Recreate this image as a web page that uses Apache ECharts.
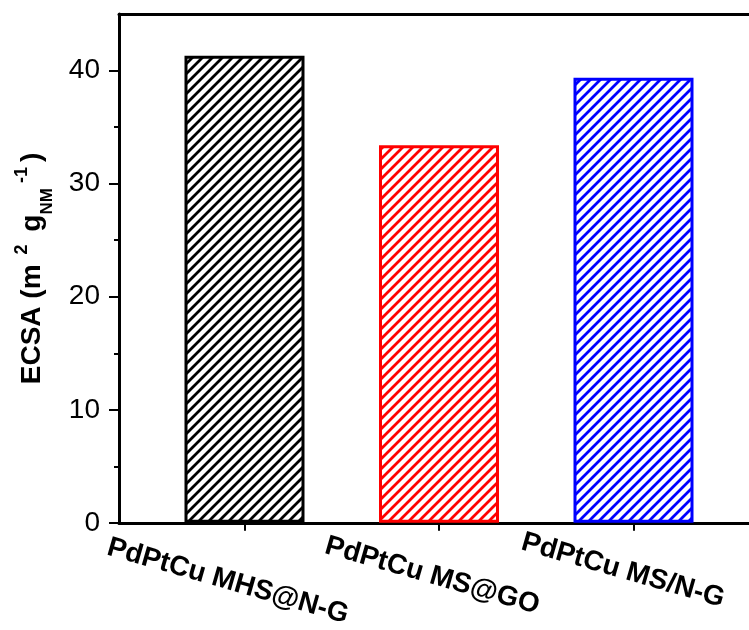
<!DOCTYPE html>
<html>
<head>
<meta charset="utf-8">
<script src="https://cdn.jsdelivr.net/npm/echarts@6/dist/echarts.min.js"></script>
<style>
  html, body { margin: 0; padding: 0; background: #fff; }
  #chart { width: 749px; height: 630px; }
</style>
</head>
<body>
<div id="chart"></div>
<script>
const categories = ['PdPtCu MHS@N-G', 'PdPtCu MS@GO', 'PdPtCu MS/N-G'];
const ecsa = [41.3, 33.4, 39.35];
const barColors = ['#000000', '#ff0000', '#0000ff'];
const yTicks = [0, 10, 20, 30, 40];
const yMinorTicks = [5, 15, 25, 35];

function hatch(color) {
  const s = 10;
  const c = document.createElement('canvas');
  c.width = s; c.height = s;
  const ctx = c.getContext('2d');
  ctx.fillStyle = '#ffffff';
  ctx.fillRect(0, 0, s, s);
  ctx.strokeStyle = color;
  ctx.lineWidth = 2.8;
  ctx.beginPath();
  ctx.moveTo(0, s); ctx.lineTo(s, 0);
  ctx.moveTo(-s / 2, s / 2); ctx.lineTo(s / 2, -s / 2);
  ctx.moveTo(s / 2, s * 1.5); ctx.lineTo(s * 1.5, s / 2);
  ctx.stroke();
  return c;
}

const font = 'Liberation Sans, Arial, sans-serif';
const labelBase = { fontFamily: font, fontSize: 28, fontWeight: 'bold', color: '#000' };
const chart = echarts.init(document.getElementById('chart'), null, { renderer: 'canvas' });

const barData = ecsa.map((v, i) => ({
  value: v,
  itemStyle: {
    color: { image: hatch(barColors[i]), repeat: 'repeat' },
    borderColor: barColors[i],
    borderWidth: 3
  }
}));

const frameLine = { show: true, onZero: false, lineStyle: { color: '#000', width: 3 } };

chart.setOption({
  backgroundColor: '#ffffff',
  animation: false,
  grid: [
    { left: 147.25, top: 14, bottom: 107, width: 583.5, containLabel: false },
    { left: 117, top: 14, bottom: 107, width: 660, containLabel: false }
  ],
  xAxis: [
    {
      type: 'category',
      gridIndex: 0,
      data: categories,
      boundaryGap: true,
      position: 'bottom',
      axisLine: { show: false },
      splitLine: { show: false },
      axisTick: { show: true, alignWithLabel: true, length: 8, lineStyle: { color: '#000', width: 2 } },
      axisLabel: {
        interval: 0,
        formatter: (v, idx) => '{l' + idx + '|' + v + '}',
        rotate: -16,
        align: 'center',
        verticalAlign: 'middle',
        margin: 53,
        color: '#000',
        fontFamily: font,
        fontSize: 28,
        fontWeight: 'bold',
        rich: {
          l0: Object.assign({ padding: [20, 29, 0, 0] }, labelBase),
          l1: Object.assign({ padding: [4, 13, 0, 0] }, labelBase),
          l2: Object.assign({ padding: [0, 23, 4, 0] }, labelBase)
        }
      }
    },
    {
      type: 'value',
      gridIndex: 1,
      position: 'bottom',
      min: 0, max: 1,
      splitLine: { show: false },
      axisLine: frameLine,
      axisTick: { show: false },
      axisLabel: { show: false }
    },
    {
      type: 'value',
      gridIndex: 1,
      position: 'top',
      min: 0, max: 1,
      splitLine: { show: false },
      axisLine: frameLine,
      axisTick: { show: false },
      axisLabel: { show: false }
    }
  ],
  yAxis: [
    {
      type: 'value',
      gridIndex: 0,
      min: 0,
      max: 45,
      show: false
    },
    {
      type: 'value',
      gridIndex: 1,
      min: 0,
      max: 45,
      position: 'left',
      splitLine: { show: false },
      axisLine: frameLine,
      axisTick: { show: true, customValues: yTicks, length: 10, lineStyle: { color: '#000', width: 2 } },
      axisLabel: {
        customValues: yTicks,
        margin: 19,
        color: '#000',
        fontFamily: font,
        fontSize: 28
      },
      name: '{a|ECSA (m}{sup|  2 }{a| g}{sub|NM}{sup| -1 }{a|)}',
      nameLocation: 'middle',
      nameRotate: 90,
      nameGap: 63,
      nameTextStyle: {
        fontFamily: font,
        color: '#000',
        rich: {
          a: { fontFamily: font, fontSize: 28, fontWeight: 'bold', color: '#000', lineHeight: 48, verticalAlign: 'middle' },
          sup: { fontFamily: font, fontSize: 18, fontWeight: 'bold', color: '#000', lineHeight: 20, verticalAlign: 'top', padding: [5, 0, 0, 0] },
          sub: { fontFamily: font, fontSize: 17, fontWeight: 'bold', color: '#000', lineHeight: 17, verticalAlign: 'bottom' }
        }
      }
    },
    {
      type: 'value',
      gridIndex: 1,
      min: 0,
      max: 45,
      position: 'left',
      splitLine: { show: false },
      axisLine: { show: false },
      axisTick: { show: true, customValues: yMinorTicks, length: 5, lineStyle: { color: '#000', width: 2 } },
      axisLabel: { show: false }
    }
  ],
  series: [
    {
      type: 'bar',
      xAxisIndex: 0,
      yAxisIndex: 0,
      barWidth: 120,
      data: barData
    }
  ]
});
</script>
</body>
</html>
